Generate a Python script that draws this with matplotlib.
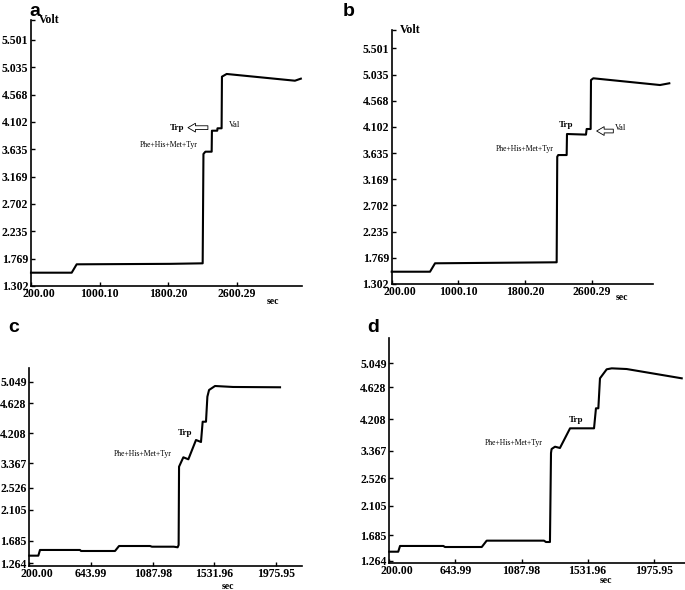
import numpy as np
import matplotlib
matplotlib.use('Agg')
import matplotlib.pyplot as plt
from matplotlib.transforms import offset_copy

plt.rcParams['font.family'] = ['Liberation Serif', 'DejaVu Serif']

# panel a
time_a = [200, 675, 733, 1822, 2204, 2213, 2236, 2309, 2312, 2374, 2377, 2425, 2429, 2484, 3281, 3350]
volt_a = [1.529, 1.529, 1.672, 1.680, 1.689, 3.555, 3.594, 3.594, 3.952, 3.952, 3.993, 3.993, 4.874, 4.920, 4.805, 4.840]

# panel b
time_b = [200, 660, 720, 2180, 2187, 2199, 2300, 2304, 2532, 2540, 2588, 2592, 2620, 3420, 3532]
volt_b = [1.521, 1.521, 1.671, 1.689, 3.571, 3.601, 3.601, 3.976, 3.965, 4.065, 4.065, 4.938, 4.969, 4.849, 4.880]

# panel c
time_c = [200, 265, 277, 565, 572, 817, 846, 1069, 1083, 1240, 1268, 1275, 1278, 1309, 1345,
          1400, 1436, 1448, 1472, 1482, 1494, 1537, 1667, 2005]
volt_c = [1.406, 1.406, 1.512, 1.512, 1.493, 1.493, 1.586, 1.586, 1.573, 1.573, 1.562, 1.605, 3.250, 3.535, 3.479,
          4.020, 3.964, 4.370, 4.370, 4.757, 4.887, 4.965, 4.946, 4.940]

# panel d
time_d = [200, 260, 272, 563, 574, 821, 854, 1239, 1252, 1279, 1286, 1290, 1313, 1346, 1414,
          1575, 1588, 1604, 1615, 1660, 1694, 1794, 2164]
volt_d = [1.416, 1.416, 1.510, 1.510, 1.493, 1.493, 1.597, 1.597, 1.575, 1.575, 3.297, 3.412, 3.473, 3.439, 3.961,
          3.961, 4.350, 4.350, 4.786, 4.944, 4.961, 4.949, 4.786]

yticks_ab = [1.302, 1.769, 2.235, 2.702, 3.169, 3.635, 4.102, 4.568, 5.035, 5.501]
xticks_ab = [200.00, 1000.10, 1800.20, 2600.29]
yticks_cd = [1.264, 1.685, 2.105, 2.526, 3.367, 4.208, 4.628, 5.049]
xticks_cd = [200.00, 643.99, 1087.98, 1531.96, 1975.95]

# the printed volt axes of c and d are not evenly spaced: where each label sits (px from top)
ytick_px_c = [563.3, 540.7, 510.0, 487.7, 463.3, 433.3, 403.3, 381.7]
ytick_px_d = [561.0, 535.3, 505.7, 478.3, 450.7, 419.0, 387.3, 363.3]

W, H = 685, 590
fig = plt.figure(figsize=(W / 100, H / 100), dpi=100)


def px_axes(left, top, right, bottom):
    return fig.add_axes([left / W, (H - bottom) / H, (right - left) / W, (bottom - top) / H])


def tick_scale(vals, px):
    v = np.array(vals, float)
    h = -np.array(px, float)
    lo = (h[1] - h[0]) / (v[1] - v[0])
    hi = (h[-1] - h[-2]) / (v[-1] - v[-2])
    v_ext = np.r_[v[0] - 100, v, v[-1] + 100]
    h_ext = np.r_[h[0] - 100 * lo, h, h[-1] + 100 * hi]
    return (lambda x: np.interp(x, v_ext, h_ext),
            lambda y: np.interp(y, h_ext, v_ext))


def style(ax, t, v, xt, yt, xlim, ylim, spine_end=None, top_tick=False):
    ax.plot(t, v, color='black', lw=1.5, solid_joinstyle='round', clip_on=False)
    ax.set_xlim(*xlim)
    ax.set_ylim(*ylim)
    for s in ['top', 'right']:
        ax.spines[s].set_visible(False)
    for s in ['left', 'bottom']:
        ax.spines[s].set_linewidth(1.2)
    if spine_end is not None:
        ax.spines['bottom'].set_bounds(xlim[0], spine_end)
    ax.set_xticks(xt, ['%.2f' % x for x in xt])
    ax.set_yticks(yt, ['%.3f' % y for y in yt])
    if top_tick:
        ax.set_yticks([ylim[1]], minor=True)
    ax.tick_params(which='both', direction='in', length=3, width=1, pad=2,
                   labelsize=8.5)
    ax.tick_params(axis='x', pad=1.5)
    for lab in ax.get_xticklabels() + ax.get_yticklabels():
        lab.set_fontweight('bold')
    first = ax.get_xticklabels()[0]
    first.set_transform(offset_copy(first.get_transform(), fig=fig, x=8, y=0, units='dots'))


arrow = dict(arrowstyle='simple,head_length=0.6,head_width=0.7,tail_width=0.3',
             fc='white', ec='black', lw=0.6, mutation_scale=9, shrinkA=0, shrinkB=0)

# a
ax = px_axes(31, 20, 301.7, 286)
style(ax, time_a, volt_a, xticks_ab, yticks_ab, (200, 3360), (1.302, 5.841), top_tick=True)
ax.text(0.03, 1.0, 'Volt', transform=ax.transAxes, va='center', ha='left',
        fontsize=8.5, fontweight='bold')
ax.text(0.894, -0.06, 'sec', transform=ax.transAxes, ha='center', va='center',
        fontsize=7, fontweight='bold')
ax.text(1909, 4.004, 'Trp', ha='center', va='center', fontsize=6.5, fontweight='bold')
ax.text(1810, 3.708, 'Phe+His+Met+Tyr', ha='center', va='center', fontsize=5.5)
ax.text(2510, 4.05, 'Val', ha='left', va='center', fontsize=6)
ax.annotate('', xy=(2032, 4.004), xytext=(2265, 4.004), arrowprops=arrow)

# b
ax = px_axes(391.7, 30, 669.3, 284)
style(ax, time_b, volt_b, xticks_ab, yticks_ab, (200, 3532), (1.302, 5.83),
      spine_end=3332, top_tick=True)
ax.text(0.03, 1.0, 'Volt', transform=ax.transAxes, va='center', ha='left',
        fontsize=8.5, fontweight='bold')
ax.text(0.83, -0.055, 'sec', transform=ax.transAxes, ha='center', va='center',
        fontsize=7, fontweight='bold')
ax.text(2292, 4.136, 'Trp', ha='center', va='center', fontsize=6.5, fontweight='bold')
ax.text(1800, 3.708, 'Phe+His+Met+Tyr', ha='center', va='center', fontsize=5.5)
ax.text(2880, 4.08, 'Val', ha='left', va='center', fontsize=6)
ax.annotate('', xy=(2660, 4.029), xytext=(2860, 4.029), arrowprops=arrow)

# c
ax = px_axes(29.3, 368.3, 301.7, 565.7)
ax.set_yscale('function', functions=tick_scale(yticks_cd, ytick_px_c))
style(ax, time_c, volt_c, xticks_cd, yticks_cd, (200, 2161), (1.219, 5.31))
ax.text(0.729, -0.106, 'sec', transform=ax.transAxes, ha='center', va='center',
        fontsize=7, fontweight='bold')
ax.text(1321, 4.208, 'Trp', ha='center', va='center', fontsize=6.5, fontweight='bold')
ax.text(1015, 3.619, 'Phe+His+Met+Tyr', ha='center', va='center', fontsize=5.5)

# d
ax = px_axes(389.3, 338.3, 685, 563.3)
ax.set_yscale('function', functions=tick_scale(yticks_cd, ytick_px_d))
style(ax, time_d, volt_d, xticks_cd, yticks_cd, (200, 2186), (1.226, 5.488))
ax.text(0.733, -0.076, 'sec', transform=ax.transAxes, ha='center', va='center',
        fontsize=7, fontweight='bold')
ax.text(1457, 4.181, 'Trp', ha='center', va='center', fontsize=6.5, fontweight='bold')
ax.text(1037, 3.563, 'Phe+His+Met+Tyr', ha='center', va='center', fontsize=5.5)

for letter, x, y in [('a', 29, 12), ('b', 343, 12), ('c', 8, 328), ('d', 367, 328)]:
    fig.text(x / W, 1 - y / H, letter, family='Liberation Sans', fontweight='bold',
             fontsize=14, ha='left', va='center')

fig.savefig('out.png', dpi=100)
